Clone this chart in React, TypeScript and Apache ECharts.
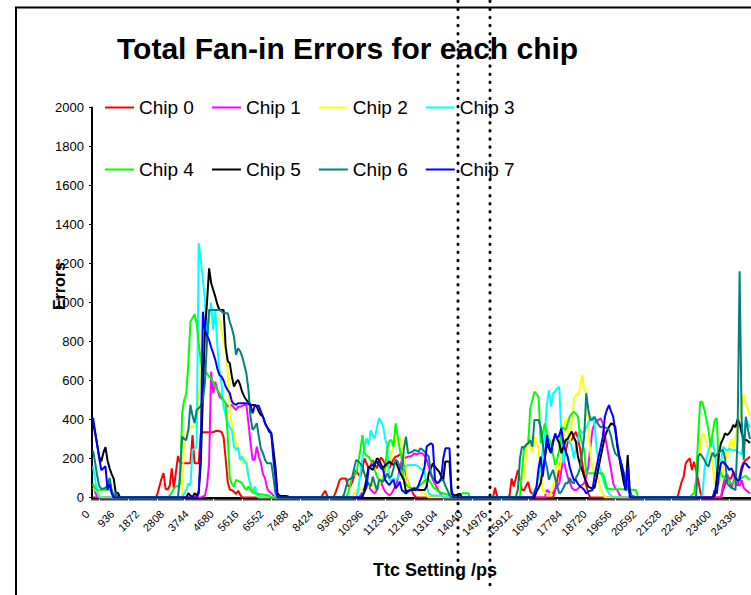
import React, { useEffect, useRef } from "react";
import * as echarts from "echarts";

const FONT = "'Liberation Sans', Arial, Helvetica, sans-serif";

// Ttc setting step (ps) between categories, and number of categories shown
const STEP_PS = 78;
const CATEGORY_COUNT = 318;
const ttcSettings: string[] = Array.from({ length: CATEGORY_COUNT }, (_, i) => String(i * STEP_PS));

const chipNames = ["Chip 0", "Chip 1", "Chip 2", "Chip 3", "Chip 4", "Chip 5", "Chip 6", "Chip 7"];
const chipColors = ["#FF0000", "#FF00FF", "#FFFF00", "#00FFFF", "#00FF00", "#000000", "#008080", "#0000FF"];

type Seg = [number, number[]];

// Each chip: segments [first category index, error counts...]; all other categories are 0
const chip0: Seg[] = [
  [30, [0, 15, 55, 95, 125, 45, 40, 60, 150, 45, 130, 213, 180, 176, 176, 176, 176, 176, 320, 176, 176, 176, 330, 334, 334, 334, 334, 334, 336, 340, 342, 340, 336, 310, 200, 80, 40, 38, 30, 18, 35, 15, 0]],
  [110, [0, 18, 35, 8, 0, 0, 0, 25, 56, 90, 98, 98, 98, 60, 56, 75, 110, 140, 120, 105, 150, 200, 175, 150, 165, 190, 170, 150, 185, 205, 190, 170, 160, 150, 175, 195, 210, 212, 220, 218, 180, 120, 80, 50, 30, 10, 0]],
  [194, [50, 5, 0, 0, 0, 0, 0, 10, 98, 56, 98, 141, 90, 38, 38, 60, 80, 30, 20, 0]],
  [222, [0, 40, 90, 150, 200, 180, 240, 280, 300, 295, 320, 337, 303, 250, 180, 120, 60, 20, 0]],
  [282, [0, 40, 80, 107, 175, 190, 201, 141, 184, 140, 90, 30, 0]],
  [303, [0, 38, 70, 107, 95, 100, 133, 80, 60, 110, 158, 180, 192, 200, 210]],
];
const chip1: Seg[] = [
  [0, [70, 30, 0]],
  [52, [0, 5, 10, 60, 176, 646, 535, 594, 552, 517, 509, 500, 483, 466, 470, 475, 460, 449, 466, 466, 470, 475, 475, 381, 280, 193, 193, 261, 210, 176, 120, 99, 48, 30, 22, 10, 0]],
  [128, [0, 10, 30, 50, 80, 60, 40, 30, 20, 40, 60, 80, 50, 30, 20, 10, 20, 40, 60, 90, 150, 190, 200, 205, 210, 210, 215, 227, 220, 225, 228, 225, 215, 193, 158, 120, 90, 70, 50, 30, 15, 0]],
  [218, [0, 38, 30, 20, 25, 40, 60, 73, 141, 200, 150, 107, 80, 50, 40, 38, 45, 55, 65, 73, 110, 158, 260, 346, 380, 390, 400, 406, 380, 320, 261, 200, 141, 73, 45, 38, 15, 0]],
  [303, [0, 60, 107, 120, 90, 50, 80, 107, 70, 60, 90, 50, 38, 30, 20]],
];
const chip2: Seg[] = [
  [0, [50, 40, 30, 20, 0]],
  [43, [0, 312, 330, 347, 364, 364, 364, 380, 500, 650, 780, 870, 910, 900, 890, 920, 936, 930, 910, 859, 800, 757, 637, 449, 380, 330, 278, 244, 220, 176, 176, 193, 120, 73, 39, 30, 10, 0]],
  [125, [0, 20, 38, 40, 47, 30, 20, 40, 60, 80, 60, 40, 50, 60, 90, 110, 125, 141, 180, 227, 260, 290, 304, 300, 295, 200, 158, 73, 50, 38, 35, 38, 35, 30, 25, 20, 10, 0]],
  [203, [0, 20, 50, 80, 95, 107, 209, 312, 260, 230, 312, 280, 252, 120, 38, 25, 21, 10, 20, 60, 120, 180, 140, 200, 300, 406, 350, 280, 380, 500, 525, 525, 560, 628, 560, 534, 363, 226, 150, 107, 120, 90, 40, 20, 0]],
  [290, [0, 60, 141, 250, 329, 320, 280, 244, 250, 160, 73, 209, 120, 80, 150, 230, 200, 260, 300, 250, 310, 350, 400, 460, 530, 480, 450, 420]],
];
const chip3: Seg[] = [
  [0, [160, 90, 30, 0]],
  [43, [0, 22, 40, 73, 60, 244, 250, 261, 1304, 1218, 1120, 1013, 808, 928, 1000, 859, 962, 774, 650, 586, 466, 420, 381, 360, 347, 261, 244, 255, 193, 210, 185, 176, 107, 60, 22, 56, 20, 0]],
  [127, [0, 40, 124, 200, 260, 304, 270, 346, 320, 304, 360, 406, 390, 363, 300, 261, 90, 90, 95, 90, 100, 120, 140, 150, 160, 167, 165, 167, 167, 165, 160, 150, 140, 133, 60, 20, 15, 10, 10, 10, 10, 10, 5, 0]],
  [212, [0, 38, 56, 100, 150, 250, 329, 474, 551, 466, 534, 543, 560, 568, 312, 175, 286, 300, 286, 260, 200, 250, 300, 350, 330, 340, 360, 380, 400, 414, 380, 244, 180, 124, 100, 60, 38, 20, 10, 0]],
  [294, [0, 141, 200, 244, 270, 295, 226, 150, 70, 180, 260, 250, 240, 250, 245, 240, 244, 235, 230, 220, 300, 397, 380, 360]],
];
const chip4: Seg[] = [
  [0, [70, 45, 40, 40, 40, 40, 40, 40, 40, 40, 0, 20, 0]],
  [36, [0, 10, 25, 45, 56, 60, 70, 432, 500, 535, 688, 902, 920, 940, 893, 791, 700, 654, 640, 637, 620, 611, 594, 569, 550, 535, 518, 500, 483, 312, 99, 70, 56, 90, 85, 80, 73, 50, 39, 56, 40, 30, 22, 20, 18, 15, 15, 13, 13, 10, 0]],
  [122, [0, 20, 60, 107, 115, 124, 180, 244, 321, 227, 215, 210, 190, 175, 140, 107, 90, 90, 90, 160, 252, 290, 295, 261, 380, 312, 250, 193, 90, 70, 56, 50, 47, 50, 52, 56, 65, 73, 85, 90, 90, 75, 56, 45, 39, 30, 25, 22, 18, 15, 12, 12, 12, 12, 12, 15, 20, 22, 22, 22, 0]],
  [206, [0, 141, 252, 270, 278, 457, 500, 543, 530, 517, 278, 330, 380, 329, 300, 278, 220, 167, 200, 244, 363, 355, 346, 380, 415, 430, 440, 430, 415, 312, 280, 244, 124, 124, 124, 124, 124, 124, 124, 124, 124, 90, 47, 45, 42, 42, 42, 42, 42, 42, 42, 40, 40, 40, 40, 38, 38, 0]],
  [288, [0, 15, 22, 90, 312, 491, 491, 450, 397, 346, 261, 330, 397, 406, 158, 120, 107, 100, 95, 80, 70, 80, 90, 95, 100, 100, 107, 110, 100, 90]],
];
const chip5: Seg[] = [
  [0, [380, 330, 270, 210, 185, 230, 258, 190, 150, 120, 95, 20, 25, 0]],
  [45, [0, 22, 10, 0, 22, 10, 30, 176, 517, 859, 1000, 1175, 1100, 1064, 1030, 990, 962, 962, 962, 774, 700, 688, 620, 569, 590, 603, 577, 540, 517, 500, 490, 475, 475, 475, 466, 440, 423, 415, 381, 360, 338, 330, 250, 159, 22, 10, 8, 8, 8, 5, 0]],
  [130, [0, 38, 100, 158, 150, 141, 170, 201, 193, 170, 150, 167, 175, 184, 175, 167, 184, 160, 133, 110, 90, 29, 35, 38, 42, 47, 42, 40, 38, 38, 38, 56, 124, 150, 175, 158, 145, 133, 110, 90, 184, 184, 184, 20, 12, 12, 15, 20, 0]],
  [213, [0, 30, 50, 73, 141, 200, 278, 250, 230, 290, 320, 300, 278, 227, 260, 295, 300, 320, 338, 310, 286, 210, 170, 141, 107, 80, 56, 50, 47, 50, 100, 158, 210, 260, 312, 340, 363, 380, 375, 363, 261, 200, 141, 80, 38, 218, 38, 0]],
  [299, [0, 10, 100, 226, 278, 300, 329, 320, 330, 346, 372, 360, 400, 380, 330, 300, 295, 290, 280]],
];
const chip6: Seg[] = [
  [0, [240, 180, 110, 60, 45, 45, 50, 60, 100, 40, 0, 25, 0]],
  [41, [0, 120, 312, 300, 295, 347, 475, 420, 381, 449, 458, 470, 500, 586, 800, 962, 962, 962, 962, 962, 962, 955, 945, 945, 945, 900, 868, 825, 731, 765, 750, 722, 680, 637, 551, 415, 347, 360, 381, 312, 250, 227, 193, 176, 176, 176, 107, 22, 5, 0]],
  [120, [0, 12, 50, 90, 95, 100, 150, 193, 185, 175, 158, 120, 90, 70, 56, 107, 70, 38, 90, 85, 80, 100, 124, 100, 110, 150, 193, 184, 160, 141, 250, 312, 227, 230, 235, 244, 240, 235, 252, 245, 235, 220, 210, 124, 100, 90, 73, 80, 90, 90, 60, 38, 12, 0]],
  [204, [0, 40, 200, 261, 255, 270, 278, 295, 261, 397, 397, 397, 363, 278, 200, 158, 90, 120, 141, 100, 60, 20, 30, 50, 73, 73, 100, 80, 72, 100, 120, 150, 230, 312, 534, 450, 397, 400, 414, 390, 372, 360, 365, 360, 355, 346, 312, 260, 226, 215, 209, 170, 130, 90, 50, 20, 10, 5, 0]],
  [291, [0, 209, 226, 210, 192, 170, 158, 200, 230, 209, 220, 230, 240, 244, 200, 73, 60, 50, 45, 38, 300, 1160, 397, 192, 414, 350, 300]],
];
const chip7: Seg[] = [
  [0, [410, 340, 270, 200, 140, 150, 160, 40, 70, 20, 0]],
  [51, [22, 261, 953, 859, 830, 808, 770, 740, 706, 660, 628, 620, 600, 569, 550, 535, 492, 480, 475, 483, 483, 483, 483, 483, 480, 475, 432, 470, 470, 470, 440, 415, 381, 360, 347, 330, 200, 107, 0]],
  [129, [0, 12, 30, 56, 150, 160, 167, 175, 184, 167, 150, 141, 90, 75, 64, 80, 90, 47, 60, 81, 38, 30, 20, 30, 38, 38, 38, 38, 60, 90, 120, 158, 261, 270, 278, 270, 90, 73, 80, 100, 200, 252, 252, 252, 38, 0]],
  [212, [0, 20, 56, 150, 210, 107, 200, 320, 270, 227, 280, 329, 303, 320, 355, 278, 240, 210, 158, 120, 90, 90, 70, 56, 50, 40, 20, 30, 35, 38, 107, 160, 210, 260, 312, 415, 450, 474, 440, 415, 340, 278, 210, 170, 124, 38, 158, 0]],
  [299, [0, 38, 20, 120, 175, 184, 170, 160, 141, 150, 130, 100, 90, 90, 140, 175, 175, 160, 150]],
];

const chipSegments: Seg[][] = [chip0, chip1, chip2, chip3, chip4, chip5, chip6, chip7];

function expand(segs: Seg[]): number[] {
  const out: number[] = new Array(CATEGORY_COUNT).fill(0);
  segs.forEach(([start, vals]) => {
    vals.forEach((v, k) => {
      if (start + k < CATEGORY_COUNT) out[start + k] = v;
    });
  });
  return out;
}

export default function App() {
  const ref = useRef<HTMLDivElement>(null);

  useEffect(() => {
    if (!ref.current) return;
    const chart = echarts.init(ref.current, undefined, { renderer: "svg" });

    const legendCommon = {
      left: 105,
      padding: 0,
      itemWidth: 29,
      itemHeight: 2,
      itemGap: 18,
      icon: "rect",
      selectedMode: false,
      textStyle: { fontSize: 19, color: "#000", fontFamily: FONT },
    };

    const option: any = {
      animation: false,
      backgroundColor: "#ffffff",
      textStyle: { fontFamily: FONT },
      title: {
        text: "Total Fan-in Errors for each chip",
        left: 117,
        top: 33,
        padding: 0,
        textStyle: { fontSize: 30, fontWeight: "bold", color: "#000", fontFamily: FONT },
      },
      legend: [
        { ...legendCommon, top: 98, data: chipNames.slice(0, 4) },
        { ...legendCommon, top: 160, data: chipNames.slice(4, 8) },
      ],
      grid: { left: 92, top: 107.5, right: -4, bottom: 97.5, containLabel: false },
      xAxis: {
        type: "category",
        data: ttcSettings,
        boundaryGap: true,
        axisLine: { show: true, lineStyle: { color: "#000", width: 2 } },
        axisTick: { show: true, interval: 0, length: 3, lineStyle: { color: "#000", width: 1.5 } },
        axisLabel: {
          interval: 11,
          rotate: 45,
          fontSize: 11,
          color: "#000",
          margin: 9,
          padding: [0, 8, 0, 0],
          fontFamily: FONT,
        },
        splitLine: { show: false },
      },
      yAxis: {
        type: "value",
        min: 0,
        max: 2000,
        interval: 200,
        axisLine: { show: true, lineStyle: { color: "#000", width: 2 } },
        axisTick: { show: true, length: 3, lineStyle: { color: "#000", width: 1 } },
        axisLabel: { fontSize: 13, color: "#000", margin: 8, fontFamily: FONT, formatter: (v: number) => String(v) },
        splitLine: { show: false },
      },
      series: chipNames.map((name, idx) => ({
        name,
        type: "line",
        data: expand(chipSegments[idx]),
        showSymbol: false,
        symbol: "none",
        lineStyle: { width: 2, color: chipColors[idx] },
        itemStyle: { color: chipColors[idx] },
      })),
      graphic: [
        {
          type: "rect",
          silent: true,
          z: 0,
          shape: { x: 16, y: 7.5, width: 800, height: 700 },
          style: { fill: "none", stroke: "#000", lineWidth: 2 },
        },
        {
          type: "text",
          silent: true,
          x: 59,
          y: 286,
          rotation: Math.PI / 2,
          style: { text: "Errors", fontSize: 16, fontWeight: "bold", fill: "#000", align: "center", verticalAlign: "middle", fontFamily: FONT },
        },
        {
          type: "text",
          silent: true,
          x: 435,
          y: 570,
          style: { text: "Ttc Setting /ps", fontSize: 18, fontWeight: "bold", fill: "#000", align: "center", verticalAlign: "middle", fontFamily: FONT },
        },
        {
          type: "line",
          silent: true,
          z: 100,
          shape: { x1: 458, y1: 1, x2: 458, y2: 580 },
          style: { stroke: "#000", lineWidth: 3, lineDash: [0.5, 7.6], lineCap: "round" },
        },
        {
          type: "line",
          silent: true,
          z: 100,
          shape: { x1: 490, y1: 1, x2: 490, y2: 588 },
          style: { stroke: "#000", lineWidth: 3, lineDash: [0.5, 7.6], lineCap: "round" },
        },
      ],
    };

    chart.setOption(option);
    return () => chart.dispose();
  }, []);

  return <div ref={ref} style={{ position: "fixed", left: 0, top: 0, width: 751, height: 595 }} />;
}
